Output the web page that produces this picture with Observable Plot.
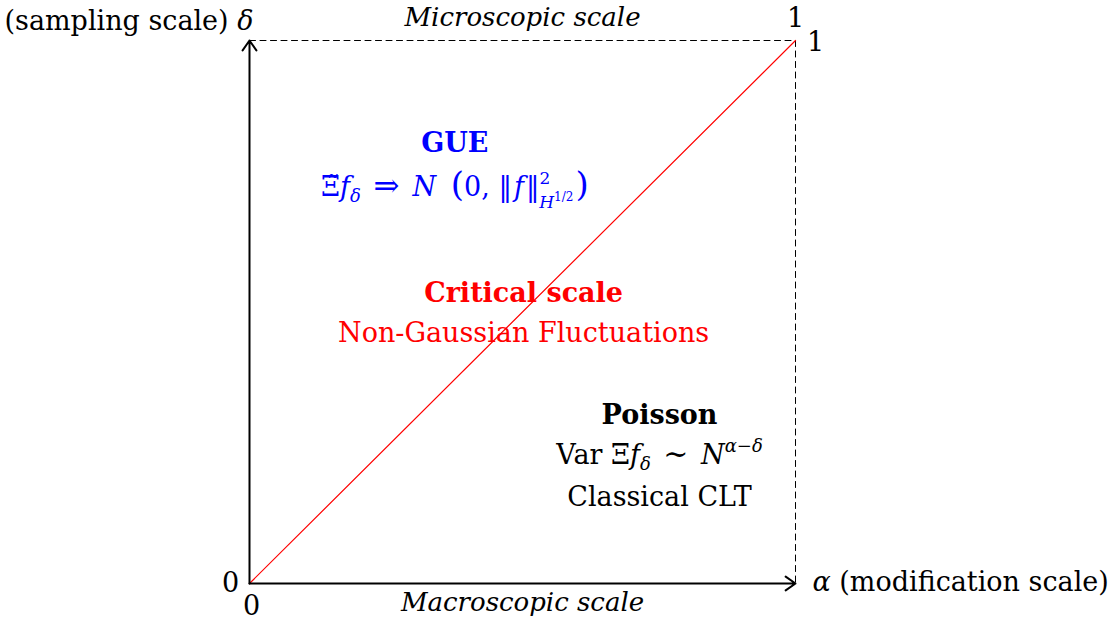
<!DOCTYPE html>
<html><head><meta charset="utf-8">
<script src="https://cdn.jsdelivr.net/npm/d3@7"></script>
<script src="https://cdn.jsdelivr.net/npm/@observablehq/plot@0.6"></script>
<style>body{margin:0;background:#fff}</style>
</head><body><div id="chart"></div>
<script>
// axes (arrows) in data units
const axisX1 = [0, 0], axisY1 = [0, 0], axisX2 = [1, 0], axisY2 = [0, 1];
// dashed boundary of the unit square
const boundaryX = [0, 1, 1], boundaryY = [1, 1, 0];
// critical diagonal alpha = delta
const diagX = [0, 1], diagY = [0, 1];
// region labels
const regionTitles = ["GUE", "Critical scale", "Poisson"];
const regionTitleX = [0.376, 0.502, 0.751];
const regionTitleY = [0.81, 0.534, 0.309];
const regionColors = ["#0000ff", "#ff0000", "#000000"];
const regionLine2 = ["__GUE__", "Non-Gaussian Fluctuations", "__VAR__"];
const regionLine2Y = [0.729, 0.46, 0.236];
const regionLine3 = ["", "", "Classical CLT"];
const regionLine3Y = [0.158, 0.158, 0.158];
// tick labels
const tickLabels = ["0", "0", "1", "1"];
const tickX = [0, 0, 1, 1];
const tickY = [0, 0, 1, 1];
// scale names
const scaleTop = "Microscopic scale", scaleBottom = "Macroscopic scale";
const axisNameY = "__YNAME__", axisNameX = "__XNAME__";

const FONT = "DejaVu Serif";
const FS = 27;
const idx = d3.range(3);
const mk = (a) => a.map((v, i) => i);

const chart = Plot.plot({
  width: 1114, height: 620,
  marginLeft: 249, marginRight: 319, marginTop: 40, marginBottom: 37,
  x: {domain: [0, 1], axis: null},
  y: {domain: [0, 1], axis: null},
  style: {fontFamily: FONT, fontSize: FS + "px", background: "#fff", overflow: "visible"},
  marks: [
    Plot.line(mk(boundaryX), {x: i => boundaryX[i], y: i => boundaryY[i], stroke: "#000", strokeWidth: 1, strokeDasharray: "6,4.5"}),
    Plot.line(mk(diagX), {x: i => diagX[i], y: i => diagY[i], stroke: "#ff0000", strokeWidth: 1.2}),
    Plot.arrow(mk(axisX1), {x1: i => axisX1[i], y1: i => axisY1[i], x2: i => axisX2[i], y2: i => axisY2[i], stroke: "#000", strokeWidth: 2, headLength: 9, headAngle: 70}),
    Plot.text(idx, {x: i => regionTitleX[i], y: i => regionTitleY[i], text: i => regionTitles[i], fill: i => regionColors[i], fontWeight: "bold"}),
    Plot.text(idx, {x: i => regionTitleX[i], y: i => regionLine2Y[i], text: i => regionLine2[i], fill: i => regionColors[i]}),
    Plot.text([2], {x: i => regionTitleX[i], y: i => regionLine3Y[i], text: i => regionLine3[i], fill: "#000"}),
    // tick labels: 0 left of origin, 0 below origin, 1 above corner, 1 right of corner
    Plot.text([0], {x: i => tickX[i], y: i => tickY[i], text: i => tickLabels[i], dx: -19, dy: 0}),
    Plot.text([1], {x: i => tickX[i], y: i => tickY[i], text: i => tickLabels[i], dx: 2, dy: 23}),
    Plot.text([2], {x: i => tickX[i], y: i => tickY[i], text: i => tickLabels[i], dx: 0, dy: -22}),
    Plot.text([3], {x: i => tickX[i], y: i => tickY[i], text: i => tickLabels[i], dx: 20, dy: 2}),
    Plot.text([scaleTop], {x: 0.5, y: 1, text: d => d, dy: -23, fontStyle: "italic", fontSize: FS - 1}),
    Plot.text([scaleBottom], {x: 0.5, y: 0, text: d => d, dy: 19, fontStyle: "italic", fontSize: FS - 1}),
    Plot.text([axisNameY], {x: 0, y: 1, text: d => d, dx: 4, dy: -19, textAnchor: "end"}),
    Plot.text([axisNameX], {x: 1, y: 0, text: d => d, dx: 17, dy: -1, textAnchor: "start"})
  ]
});
document.getElementById("chart").appendChild(chart);

// rich math formatting for the formula lines
function richen(placeholder, parts) {
  d3.select(chart).selectAll("text").filter(function() { return this.textContent === placeholder; })
    .each(function() {
      const t = d3.select(this);
      t.text(null);
      for (const p of parts) {
        const s = t.append("tspan").text(p.t);
        if (p.i) s.attr("font-style", "italic");
        if (p.fs) s.attr("font-size", p.fs);
        if (p.dy) s.attr("dy", p.dy);
        if (p.dx) s.attr("dx", p.dx);
      }
    });
}
richen("__GUE__", [
  {t: "Ξ\u0303"}, {t: "f", i: 1}, {t: "δ", i: 1, fs: 18, dy: 6},
  {t: " ⇒ ", dy: -6, fs: 31, dx: 3}, {t: "N", i: 1, dx: 3}, {t: " (", fs: 34, dx: 4}, {t: "0, ‖"}, {t: "f", i: 1, dx: 2}, {t: "‖", dx: 2},
  {t: "2", fs: 17, dy: -12}, {t: "H", i: 1, fs: 17, dx: -11, dy: 24}, {t: "1/2", fs: 12, dy: -7},
  {t: ")", fs: 34, dy: -5, dx: 2}
]);
richen("__VAR__", [
  {t: "Var Ξ"}, {t: "f", i: 1}, {t: "δ", i: 1, fs: 18, dy: 6},
  {t: " ∼ ", dy: -6, fs: 30, dx: 3}, {t: "N", i: 1, dx: 3}, {t: "α−δ", i: 1, fs: 18, dy: -12}
]);
richen("__YNAME__", [{t: "(sampling scale) "}, {t: "δ", i: 1}]);
richen("__XNAME__", [{t: "α", i: 1}, {t: " (modification scale)"}]);
</script></body></html>
